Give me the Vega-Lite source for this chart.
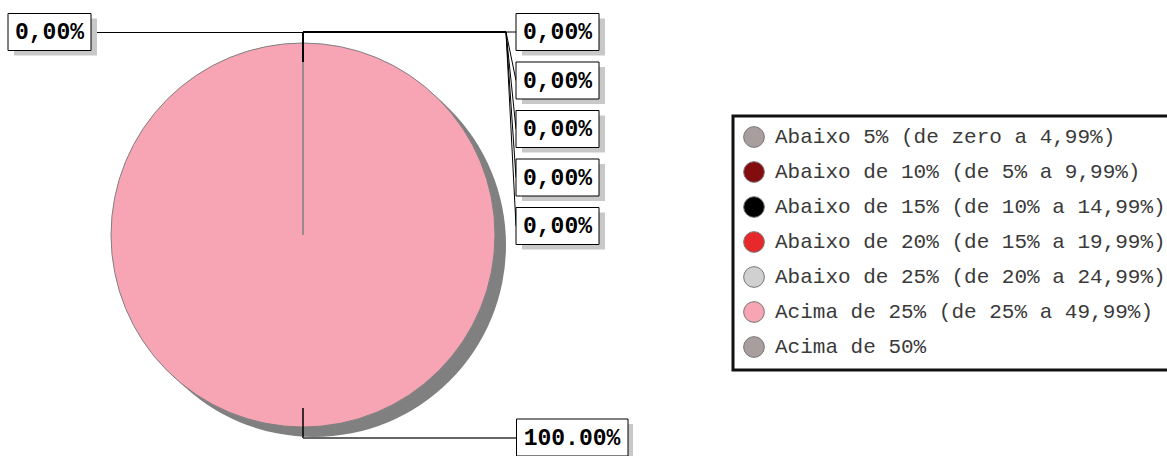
{
  "$schema": "https://vega.github.io/schema/vega-lite/v6.json",
  "width": 1167,
  "height": 456,
  "padding": 0,
  "autosize": {"type": "none"},
  "background": "white",
  "config": {"view": {"stroke": null}},
  "data": {
    "values": [
      {"categoria": "Abaixo 5% (de zero a 4,99%)", "valor": 0, "rotulo": "0,00%"},
      {"categoria": "Abaixo de 10% (de 5% a 9,99%)", "valor": 0, "rotulo": "0,00%"},
      {"categoria": "Abaixo de 15% (de 10% a 14,99%)", "valor": 0, "rotulo": "0,00%"},
      {"categoria": "Abaixo de 20% (de 15% a 19,99%)", "valor": 0, "rotulo": "0,00%"},
      {"categoria": "Abaixo de 25% (de 20% a 24,99%)", "valor": 0, "rotulo": "0,00%"},
      {"categoria": "Acima de 25% (de 25% a 49,99%)", "valor": 100, "rotulo": "100.00%"},
      {"categoria": "Acima de 50%", "valor": 0, "rotulo": "0,00%"}
    ]
  },
  "layer": [
    {
      "mark": {"type": "arc", "x": 314, "y": 245, "outerRadius": 192, "fill": "#808080", "stroke": null},
      "encoding": {
        "theta": {"field": "valor", "type": "quantitative", "stack": true},
        "order": {"field": "categoria", "sort": "ascending"}
      }
    },
    {
      "mark": {"type": "arc", "x": 303, "y": 235, "outerRadius": 192, "stroke": "#808080", "strokeWidth": 1},
      "encoding": {
        "theta": {"field": "valor", "type": "quantitative", "stack": true},
        "order": {"field": "categoria", "sort": "ascending"},
        "color": {
          "field": "categoria",
          "type": "nominal",
          "scale": {
            "domain": [
              "Abaixo 5% (de zero a 4,99%)",
              "Abaixo de 10% (de 5% a 9,99%)",
              "Abaixo de 15% (de 10% a 14,99%)",
              "Abaixo de 20% (de 15% a 19,99%)",
              "Abaixo de 25% (de 20% a 24,99%)",
              "Acima de 25% (de 25% a 49,99%)",
              "Acima de 50%"
            ],
            "range": ["#a89e9e", "#820c0e", "#000000", "#e8292b", "#d0d0d0", "#f7a5b4", "#a89e9e"]
          },
          "legend": {
            "title": null,
            "orient": "none",
            "legendX": 733,
            "legendY": 116,
            "padding": 10,
            "rowPadding": 9,
            "symbolType": "circle",
            "symbolSize": 430,
            "symbolStrokeColor": "#777777",
            "symbolStrokeWidth": 1,
            "labelOffset": 10,
            "labelFont": "Liberation Mono",
            "labelFontSize": 21,
            "labelColor": "#3a3a3a",
            "labelLimit": 0,
            "strokeColor": "#111111",
            "fillColor": "white",
            "encode": {"legend": {"update": {"strokeWidth": {"value": 3}}}}
          }
        }
      }
    },
    {
      "transform": [{"filter": "datum.categoria === 'Abaixo 5% (de zero a 4,99%)'"}],
      "layer": [
        {
          "mark": {"type": "rule", "color": "#000000", "strokeWidth": 2},
          "encoding": {"x": {"value": 303}, "x2": {"value": 506}, "y": {"value": 32}, "y2": {"value": 32}}
        },
        {
          "mark": {"type": "rule", "color": "#000000", "strokeWidth": 2},
          "encoding": {"x": {"value": 303}, "x2": {"value": 303}, "y": {"value": 32}, "y2": {"value": 62}}
        }
      ]
    },
    {
      "transform": [{"filter": "datum.valor === 0 && datum.categoria !== 'Acima de 50%'"}],
      "layer": [
        {
          "mark": {"type": "rule", "color": "#000000", "strokeWidth": 1},
          "encoding": {
            "x": {"value": 516},
            "x2": {"value": 506},
            "y": {"field": "categoria", "type": "nominal", "sort": null, "scale": {"type": "point", "range": [32, 226], "padding": 0}, "axis": null},
            "y2": {"value": 32}
          }
        },
        {
          "mark": {"type": "rect", "fill": "#c8c8c8", "height": 37, "yOffset": 5},
          "encoding": {
            "x": {"value": 522},
            "x2": {"value": 605},
            "y": {"field": "categoria", "type": "nominal", "sort": null}
          }
        },
        {
          "mark": {"type": "rect", "fill": "white", "stroke": "#000000", "strokeWidth": 1, "height": 37},
          "encoding": {
            "x": {"value": 516},
            "x2": {"value": 599},
            "y": {"field": "categoria", "type": "nominal", "sort": null}
          }
        },
        {
          "mark": {"type": "text", "font": "Liberation Mono", "fontWeight": "bold", "fontSize": 23, "align": "center", "baseline": "middle", "color": "#000000"},
          "encoding": {
            "x": {"value": 557.5},
            "y": {"field": "categoria", "type": "nominal", "sort": null},
            "text": {"field": "rotulo", "type": "nominal"}
          }
        }
      ]
    },
    {
      "transform": [{"filter": "datum.categoria === 'Acima de 50%'"}],
      "layer": [
        {
          "mark": {"type": "rule", "color": "#000000", "strokeWidth": 1},
          "encoding": {"x": {"value": 91}, "x2": {"value": 303}, "y": {"value": 32.5}, "y2": {"value": 32.5}}
        },
        {
          "mark": {"type": "rect", "fill": "#c8c8c8"},
          "encoding": {"x": {"value": 14}, "x2": {"value": 97}, "y": {"value": 18.5}, "y2": {"value": 55.5}}
        },
        {
          "mark": {"type": "rect", "fill": "white", "stroke": "#000000", "strokeWidth": 1},
          "encoding": {"x": {"value": 8}, "x2": {"value": 91}, "y": {"value": 13.5}, "y2": {"value": 50.5}}
        },
        {
          "mark": {"type": "text", "font": "Liberation Mono", "fontWeight": "bold", "fontSize": 23, "align": "center", "baseline": "middle", "color": "#000000"},
          "encoding": {"x": {"value": 49.5}, "y": {"value": 32}, "text": {"field": "rotulo", "type": "nominal"}}
        }
      ]
    },
    {
      "transform": [{"filter": "datum.valor > 0"}],
      "layer": [
        {
          "mark": {"type": "rule", "color": "#000000", "strokeWidth": 1.5},
          "encoding": {"x": {"value": 303}, "x2": {"value": 303}, "y": {"value": 408}, "y2": {"value": 438}}
        },
        {
          "mark": {"type": "rule", "color": "#333333", "strokeWidth": 1.5},
          "encoding": {"x": {"value": 303}, "x2": {"value": 517}, "y": {"value": 438}, "y2": {"value": 438}}
        },
        {
          "mark": {"type": "rect", "fill": "#c8c8c8"},
          "encoding": {"x": {"value": 522}, "x2": {"value": 633}, "y": {"value": 424}, "y2": {"value": 461}}
        },
        {
          "mark": {"type": "rect", "fill": "white", "stroke": "#000000", "strokeWidth": 1},
          "encoding": {"x": {"value": 516.5}, "x2": {"value": 628}, "y": {"value": 419}, "y2": {"value": 456}}
        },
        {
          "mark": {"type": "text", "font": "Liberation Mono", "fontWeight": "bold", "fontSize": 23, "align": "center", "baseline": "middle", "color": "#000000"},
          "encoding": {"x": {"value": 572}, "y": {"value": 438}, "text": {"field": "rotulo", "type": "nominal"}}
        }
      ]
    }
  ]
}
